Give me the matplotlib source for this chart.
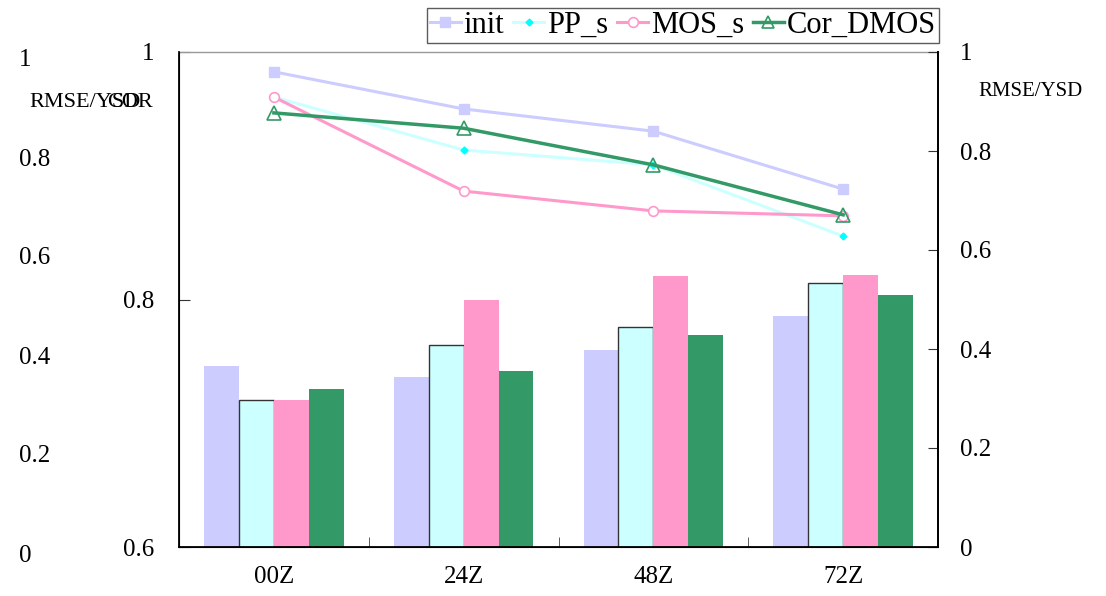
import numpy as np
import matplotlib
matplotlib.use("Agg")
import matplotlib.pyplot as plt
from matplotlib.lines import Line2D

plt.rcParams['font.family'] = ['Liberation Serif', 'DejaVu Serif']

# Forecast lead times
categories = ["00Z", "24Z", "48Z", "72Z"]
series = ["init", "PP_s", "MOS_s", "Cor_DMOS"]

# Correlation (bars, inner left axis 0.6-1)
cor_init = [0.746, 0.737, 0.759, 0.787]
cor_pp = [0.719, 0.763, 0.778, 0.813]
cor_mos = [0.719, 0.800, 0.819, 0.820]
cor_dmos = [0.728, 0.742, 0.771, 0.804]

# RMSE/YSD (lines, right axis 0-1)
rmse_init = [0.960, 0.885, 0.840, 0.723]
rmse_pp = [0.909, 0.802, 0.772, 0.628]
rmse_mos = [0.909, 0.719, 0.679, 0.669]
rmse_dmos = [0.877, 0.846, 0.772, 0.671]

cor_ticks = [0.6, 0.8, 1.0]
cor_ticklabels = ["0.6", "0.8", "1"]
rmse_ticks = [0, 0.2, 0.4, 0.6, 0.8, 1.0]
rmse_ticklabels = ["0", "0.2", "0.4", "0.6", "0.8", "1"]

bar_colors = ["#CCCCFF", "#CCFFFF", "#FF99CC", "#339966"]
line_colors = ["#CCCCFF", "#CCFFFF", "#FF99CC", "#339966"]

W, H = 1106, 596
fig = plt.figure(figsize=(W / 100, H / 100), dpi=100)
left, right, bottom, top = 179 / W, 938 / W, 1 - 547 / H, 1 - 52 / H
ax = fig.add_axes([left, bottom, right - left, top - bottom])

x = np.arange(len(categories))
bw = 0.184
bar_sets = [cor_init, cor_pp, cor_mos, cor_dmos]
for i, vals in enumerate(bar_sets):
    off = (i - 1.5) * bw
    if i == 1:
        ax.bar(x + off, vals, bw, color=bar_colors[i],
               edgecolor="#333333", linewidth=1.0, zorder=2)
    else:
        ax.bar(x + off, vals, bw, color=bar_colors[i], linewidth=0, zorder=2)

ax.set_ylim(0.6, 1.0)
ax.set_xlim(-0.5, len(categories) - 0.5)
ax.set_yticks(cor_ticks)
ax.set_yticklabels(cor_ticklabels)
ax.set_xticks(x)
ax.set_xticklabels(categories)
ax.tick_params(axis='x', length=0, labelsize=18, pad=14)
ax.set_xticks(np.arange(0.5, len(categories) - 0.5, 1), minor=True)
ax.tick_params(axis='x', which='minor', direction='in', length=7, color="#444444")
ax.tick_params(axis='y', direction='in', length=8, labelsize=18, pad=18, color="#333333")
ax.spines['top'].set_color("#999999")
ax.spines['top'].set_linewidth(1.0)
for s in ['left', 'bottom', 'right']:
    ax.spines[s].set_linewidth(1.3)

# RMSE/YSD lines on the right axis
ax2 = ax.twinx()
ax2.set_ylim(0, 1)
ax2.set_yticks(rmse_ticks)
ax2.set_yticklabels(rmse_ticklabels)
ax2.tick_params(axis='y', direction='in', length=7, labelsize=18, pad=16, color="#333333")
ax2.spines['top'].set_visible(False)
ax2.spines['right'].set_linewidth(1.3)

ax2.plot(x, rmse_init, color=line_colors[0], lw=2.2, marker='s', ms=7,
         mfc="#CCCCFF", mec="#CCCCFF", zorder=3)
ax2.plot(x, rmse_pp, color=line_colors[1], lw=2.2, marker='D', ms=3.5,
         mfc="#00FFFF", mec="#00FFFF", zorder=3)
ax2.plot(x, rmse_mos, color=line_colors[2], lw=2.2, marker='o', ms=7,
         mfc="white", mec="#FF99CC", mew=1.2, zorder=4)
ax2.plot(x, rmse_dmos, color=line_colors[3], lw=2.5, marker='^', ms=10,
         mfc="none", mec="#339966", mew=1.2, zorder=5)

# Duplicate outer RMSE/YSD scale on the far left
ax3 = fig.add_axes([left, bottom - 6 / H, right - left, top - bottom])
ax3.set_ylim(0, 1)
ax3.set_xticks([])
ax3.set_yticks(rmse_ticks)
ax3.set_yticklabels(rmse_ticklabels)
for s in ['top', 'bottom', 'right', 'left']:
    ax3.spines[s].set_visible(False)
ax3.spines['left'].set_position(('outward', (179 - 19) * 0.72))
ax3.tick_params(axis='y', length=0, labelsize=18, pad=0)
for lab in ax3.get_yticklabels():
    lab.set_horizontalalignment('left')
ax3.patch.set_visible(False)

# Axis titles
fig.text(29 / W, 1 - 103 / H, "RMSE/YSD", fontsize=16, ha='left', va='center')
fig.text(153 / W, 1 - 103 / H, "COR", fontsize=16, ha='right', va='center')
fig.text(978 / W, 1 - 92 / H, "RMSE/YSD", fontsize=15, ha='left', va='center')

handles = [
    Line2D([], [], color=line_colors[0], lw=2.2, marker='s', ms=7, mfc="#CCCCFF", mec="#CCCCFF"),
    Line2D([], [], color=line_colors[1], lw=2.2, marker='D', ms=3.5, mfc="#00FFFF", mec="#00FFFF"),
    Line2D([], [], color=line_colors[2], lw=2.2, marker='o', ms=7, mfc="white", mec="#FF99CC", mew=1.2),
    Line2D([], [], color=line_colors[3], lw=2.5, marker='^', ms=9, mfc="none", mec="#339966", mew=1.2),
]
leg = fig.legend(handles, series, loc='lower right',
                 bbox_to_anchor=(939 / W, 1 - 43 / H), ncol=4, fontsize=22,
                 frameon=True, fancybox=False, edgecolor="#333333",
                 handlelength=1.0, handletextpad=0.1, columnspacing=0.3,
                 borderpad=0.1, borderaxespad=0)
leg.get_frame().set_linewidth(1.0)

fig.savefig("out.png", dpi=100)
